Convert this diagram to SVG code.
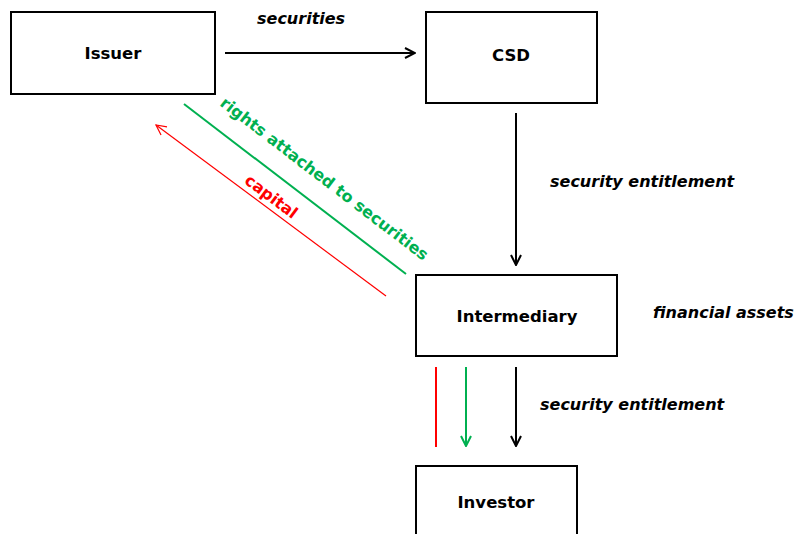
<svg xmlns="http://www.w3.org/2000/svg" width="795" height="534" viewBox="0 0 795 534">
<defs>
<style>
.box{fill:#fff;stroke:#000;stroke-width:2}
.lbl{font-family:"DejaVu Sans",Verdana,sans-serif;font-weight:bold;font-size:16.5px;text-anchor:middle;fill:#000}
.it{font-family:"DejaVu Sans",Verdana,sans-serif;font-weight:bold;font-style:italic;font-size:16px;fill:#000}
.dg{font-family:"DejaVu Sans",Verdana,sans-serif;font-weight:bold;font-size:16px;text-anchor:middle}
.k{stroke:#000;stroke-width:2;fill:none}
.g{stroke:#00b050;stroke-width:2;fill:none}
.r{stroke:#ff0000;stroke-width:1.2;fill:none}
</style>
<marker id="ak" viewBox="0 0 12 12" refX="11" refY="6" markerWidth="12" markerHeight="12" markerUnits="userSpaceOnUse" orient="auto"><path d="M1,1 L11,6 L1,11" fill="none" stroke="#000" stroke-width="2"/></marker>
<marker id="ag" viewBox="0 0 12 12" refX="11" refY="6" markerWidth="12" markerHeight="12" markerUnits="userSpaceOnUse" orient="auto"><path d="M1,1 L11,6 L1,11" fill="none" stroke="#00b050" stroke-width="2"/></marker>
<marker id="ar" viewBox="0 0 12 12" refX="11" refY="6" markerWidth="12" markerHeight="12" markerUnits="userSpaceOnUse" orient="auto"><path d="M1,1 L11,6 L1,11" fill="none" stroke="#ff0000" stroke-width="1.2"/></marker>
</defs>
<rect width="795" height="534" fill="#fff"/>
<g id="issuer"><rect class="box" x="11" y="12" width="204" height="82"/><text class="lbl" x="113" y="59">Issuer</text></g>
<g id="csd"><rect class="box" x="426" y="12" width="171" height="91"/><text class="lbl" x="511" y="61">CSD</text></g>
<g id="intermediary"><rect class="box" x="416" y="275" width="201" height="81"/><text class="lbl" x="517" y="322">Intermediary</text></g>
<g id="investor"><rect class="box" x="416" y="466" width="161" height="80"/><text class="lbl" x="496" y="508">Investor</text></g>
<g id="connectors">
<line class="k" x1="225" y1="53" x2="415" y2="53" marker-end="url(#ak)"/>
<line class="k" x1="516" y1="113" x2="516" y2="265" marker-end="url(#ak)"/>
<line class="g" x1="184" y1="104" x2="406" y2="274"/>
<line class="r" x1="386" y1="296" x2="156" y2="125" marker-end="url(#ar)"/>
<line stroke="#ff0000" stroke-width="2" x1="436" y1="367" x2="436" y2="447"/>
<line class="g" x1="466" y1="367" x2="466" y2="446" marker-end="url(#ag)"/>
<line class="k" x1="516" y1="367" x2="516" y2="446" marker-end="url(#ak)"/>
</g>
<g id="labels">
<text class="it" x="257" y="24">securities</text>
<text class="it" x="550" y="187">security entitlement</text>
<text class="it" x="653" y="318">financial assets</text>
<text class="it" x="540" y="410">security entitlement</text>
<text class="dg" style="fill:#00b050" transform="translate(321,183) rotate(37.4)">rights attached to securities</text>
<text class="dg" style="fill:#ff0000" transform="translate(268,201) rotate(37)">capital</text>
</g>
</svg>
